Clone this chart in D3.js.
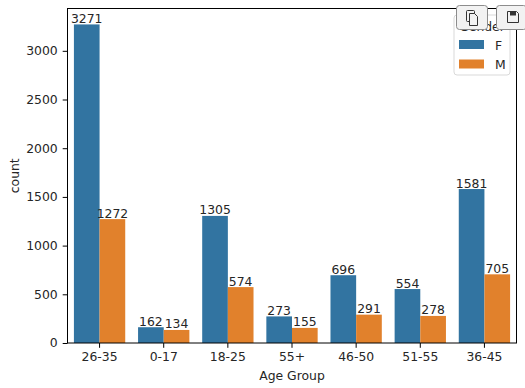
<!DOCTYPE html>
<html>
<head>
<meta charset="utf-8">
<script src="https://cdn.jsdelivr.net/npm/d3@7"></script>
<style>
  html, body { margin: 0; padding: 0; background: #fff; }
  svg { display: block; }
  text { font-family: "DejaVu Sans", sans-serif; fill: #262626; }
</style>
</head>
<body>
<div id="main_graphs"></div>
<script>
var ageGroups = ["26-35", "0-17", "18-25", "55+", "46-50", "51-55", "36-45"];
var genders = ["F", "M"];
var femaleCounts = [3271, 162, 1305, 273, 696, 554, 1581];
var maleCounts = [1272, 134, 574, 155, 291, 278, 705];
var yTicks = [0, 500, 1000, 1500, 2000, 2500, 3000];
var genderColors = ["#3274a1", "#e1812c"];

var width = 525
var height = 388
var fontSize = "12.4px"
var margin = {top: 8.5, right: 8.5, bottom: 45, left: 67.5}
var innerW = width - margin.left - margin.right
var innerH = height - margin.top - margin.bottom

var svg = d3.select("#main_graphs")
  .append("svg")
  .attr("width", width)
  .attr("height", height)

var g = svg.append("g")
  .attr("transform", "translate(" + margin.left + "," + margin.top + ")")

var x = d3.scaleBand()
  .domain(ageGroups)
  .range([0, innerW])

var xInner = d3.scaleBand()
  .domain(genders)
  .range([x.bandwidth() * 0.1, x.bandwidth() * 0.9])

var y = d3.scaleLinear()
  .domain([0, 3434.5])
  .range([innerH, 0])

// bars and their count labels
var series = [femaleCounts, maleCounts]
series.forEach(function(values, s) {
  var rows = values.map(function(v, i) { return {age: ageGroups[i], value: v} })

  g.selectAll("rect.s" + s)
    .data(rows)
    .enter()
    .append("rect")
    .attr("class", "s" + s)
    .attr("x", function(d) { return x(d.age) + xInner(genders[s]) })
    .attr("y", function(d) { return y(d.value) })
    .attr("width", xInner.bandwidth())
    .attr("height", function(d) { return innerH - y(d.value) })
    .style("fill", genderColors[s])

  g.selectAll("text.s" + s)
    .data(rows)
    .enter()
    .append("text")
    .attr("class", "s" + s)
    .attr("x", function(d) { return x(d.age) + xInner(genders[s]) + xInner.bandwidth() / 2 })
    .attr("y", function(d) { return y(d.value) - 1.5 })
    .attr("text-anchor", "middle")
    .style("font-size", fontSize)
    .text(function(d) { return d.value })
})

// axes
var xAxis = g.append("g")
  .attr("transform", "translate(0," + innerH + ")")
  .call(d3.axisBottom(x).tickSize(4.8).tickPadding(4))
var yAxis = g.append("g")
  .call(d3.axisLeft(y).tickValues(yTicks).tickFormat(d3.format("d")).tickSize(4.8).tickPadding(5))

xAxis.selectAll("text").style("font-size", fontSize)
yAxis.selectAll("text").style("font-size", fontSize)
xAxis.select(".domain").remove()
yAxis.select(".domain").remove()
xAxis.selectAll("line").style("stroke", "#000")
yAxis.selectAll("line").style("stroke", "#000")

// frame
g.append("rect")
  .attr("width", innerW)
  .attr("height", innerH)
  .style("fill", "none")
  .style("stroke", "#000")
  .style("stroke-width", 1)

g.append("text")
  .attr("x", innerW / 2)
  .attr("y", innerH + 37)
  .attr("text-anchor", "middle")
  .style("font-size", fontSize)
  .text("Age Group")

g.append("text")
  .attr("transform", "rotate(-90)")
  .attr("x", -innerH / 2)
  .attr("y", -48.5)
  .attr("text-anchor", "middle")
  .style("font-size", fontSize)
  .text("count")

// legend
var legend = svg.append("g").attr("transform", "translate(454,15)")
legend.append("rect")
  .attr("width", 56)
  .attr("height", 60)
  .attr("rx", 3)
  .style("fill", "#fff")
  .style("fill-opacity", 0.8)
  .style("stroke", "#d9d9d9")

legend.append("text")
  .attr("x", 28)
  .attr("y", 16)
  .attr("text-anchor", "middle")
  .style("font-size", fontSize)
  .text("Gender")

genders.forEach(function(name, i) {
  legend.append("rect")
    .attr("x", 5)
    .attr("y", 25 + i * 19.5)
    .attr("width", 25)
    .attr("height", 9)
    .style("fill", genderColors[i])
  legend.append("text")
    .attr("x", 41)
    .attr("y", 34.5 + i * 19.5)
    .style("font-size", fontSize)
    .text(name)
})

// toolbar buttons that sit over the chart
function toolButton(bx, by, bw, bh) {
  var b = svg.append("g").attr("transform", "translate(" + bx + "," + by + ")")
  b.append("rect")
    .attr("x", 0.5)
    .attr("y", 0.5)
    .attr("width", bw)
    .attr("height", bh)
    .attr("rx", 3)
    .style("fill", "#f2f2f2")
    .style("stroke", "#8c8c8c")
  return b
}

var copyBtn = toolButton(456, 5, 31, 24)
copyBtn.append("rect")
  .attr("x", 10.5).attr("y", 5.5).attr("width", 8).attr("height", 11).attr("rx", 1)
  .style("fill", "none").style("stroke", "#333")
copyBtn.append("path")
  .attr("d", "M13.5 8.5h5l3 3v9h-8z")
  .style("fill", "#f2f2f2").style("stroke", "#333")

var saveBtn = toolButton(496, 5, 30, 24)
saveBtn.append("path")
  .attr("d", "M11.5 6.5h9l2 2v9h-11z")
  .style("fill", "#f2f2f2").style("stroke", "#333")
saveBtn.append("rect")
  .attr("x", 14).attr("y", 6.5).attr("width", 6).attr("height", 4)
  .style("fill", "#333")
</script>
</body>
</html>
